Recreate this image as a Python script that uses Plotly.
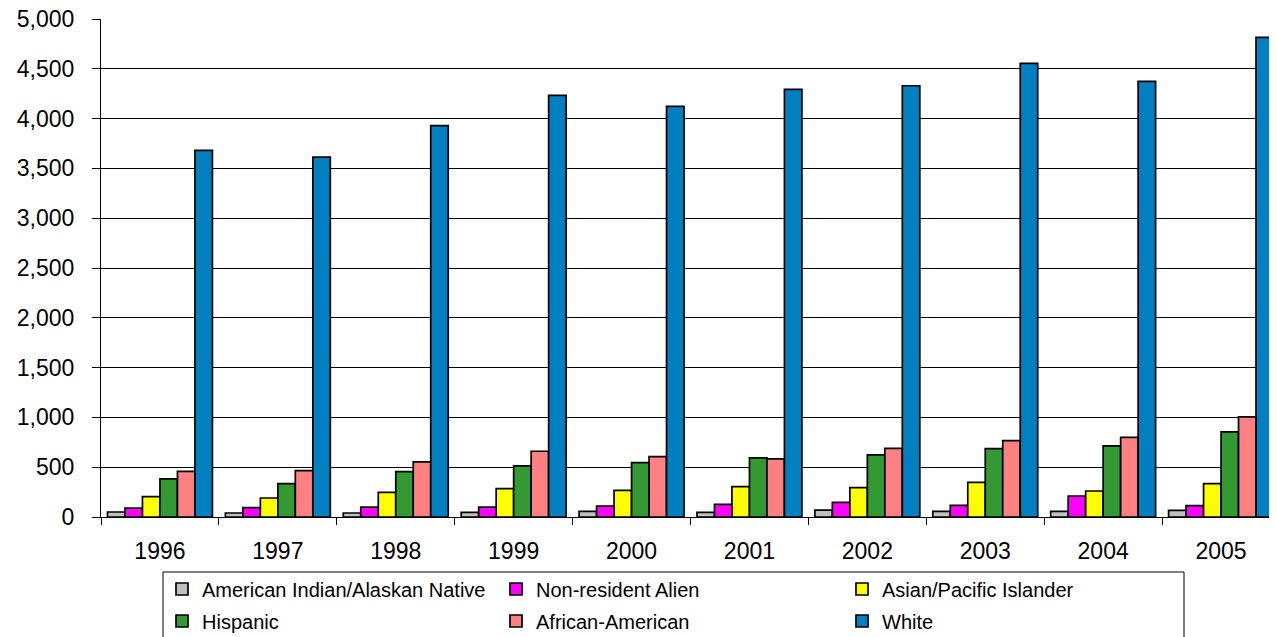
import plotly.graph_objects as go

years = ["1996", "1997", "1998", "1999", "2000", "2001", "2002", "2003", "2004", "2005"]
american_indian = [50, 40, 40, 47, 57, 47, 70, 57, 57, 67]
non_resident = [90, 94, 100, 100, 110, 127, 147, 117, 211, 114]
asian_pacific = [204, 191, 248, 285, 268, 305, 295, 348, 261, 335]
hispanic = [382, 335, 456, 513, 546, 593, 623, 687, 714, 854]
african_american = [459, 466, 553, 660, 606, 583, 690, 767, 800, 1005]
white = [3681, 3614, 3929, 4233, 4122, 4293, 4330, 4554, 4373, 4815]

series = [
    ("American Indian/Alaskan Native", american_indian, "#C0C0C0"),
    ("Non-resident Alien", non_resident, "#FF00FF"),
    ("Asian/Pacific Islander", asian_pacific, "#FFFF00"),
    ("Hispanic", hispanic, "#339933"),
    ("African-American", african_american, "#FF8080"),
    ("White", white, "#0080C0"),
]

# The page body has an 8px margin, so the figure is drawn 8px right/down.
OFF = 8
W, H = 1277, 637
# plot area in screen (reference) pixels
P_LEFT, P_RIGHT, P_TOP, P_BOTTOM = 101, 1277, 19, 517
ML = P_LEFT - OFF
MR = W - (P_RIGHT - OFF)
MT = P_TOP - OFF
MB = H - (P_BOTTOM - OFF)
pw = P_RIGHT - P_LEFT
ph = P_BOTTOM - P_TOP

def px_x(p):
    return (p - P_LEFT) / pw

def px_y(p):
    return (P_BOTTOM - p) / ph

def cont_x(p):
    return (p - OFF) / W

def cont_y(p):
    return (H - (p - OFF)) / H

FONT = "Liberation Sans, Arial, sans-serif"

legend_text_x = [202, 536, 882]
legend_row_y = [589, 621]

fig = go.Figure()
layout_legends = {}
for i, (name, vals, color) in enumerate(series):
    row, col = divmod(i, 3)
    key = "legend" if i == 0 else f"legend{i+1}"
    fig.add_trace(go.Bar(
        name=name, x=years, y=vals,
        marker=dict(color=color, line=dict(color="black", width=1.7)),
        legend=key,
    ))
    layout_legends[key] = dict(
        xref="container", yref="container",
        x=cont_x(legend_text_x[col] - 40), xanchor="left",
        y=cont_y(legend_row_y[row]), yanchor="middle",
        bgcolor="rgba(0,0,0,0)", borderwidth=0,
        font=dict(family=FONT, size=20, color="black"),
    )

fig.update_layout(
    width=W, height=H,
    margin=dict(l=ML, r=MR, t=MT, b=MB, pad=0, autoexpand=False),
    paper_bgcolor="white", plot_bgcolor="white",
    barmode="group", bargap=0.11, bargroupgap=0,
    font=dict(family=FONT, size=23, color="black"),
    showlegend=True,
    **layout_legends,
)

fig.update_xaxes(
    type="category", range=[-0.5, 9.5 - 3/118],
    showline=True, linecolor="black", linewidth=1,
    ticks="outside", tickson="boundaries", ticklen=7, tickcolor="black",
    ticklabelstandoff=13, ticklabeloverflow="allow",
    showgrid=False, tickfont=dict(size=23, family=FONT),
)
fig.update_yaxes(
    range=[0, 5000], tickvals=list(range(0, 5001, 500)),
    tickformat=",d",
    showline=True, linecolor="black", linewidth=1,
    ticks="outside", ticklen=8, tickcolor="black",
    ticklabelstandoff=13, ticklabeloverflow="allow",
    showgrid=True, gridcolor="black", gridwidth=1,
    zeroline=False, tickfont=dict(size=23, family=FONT),
)

fig.add_shape(type="rect", xref="paper", yref="paper",
              x0=px_x(163), x1=px_x(1184), y0=px_y(720), y1=px_y(572),
              line=dict(color="black", width=1), fillcolor="rgba(0,0,0,0)")

fig.write_html("out.html")
